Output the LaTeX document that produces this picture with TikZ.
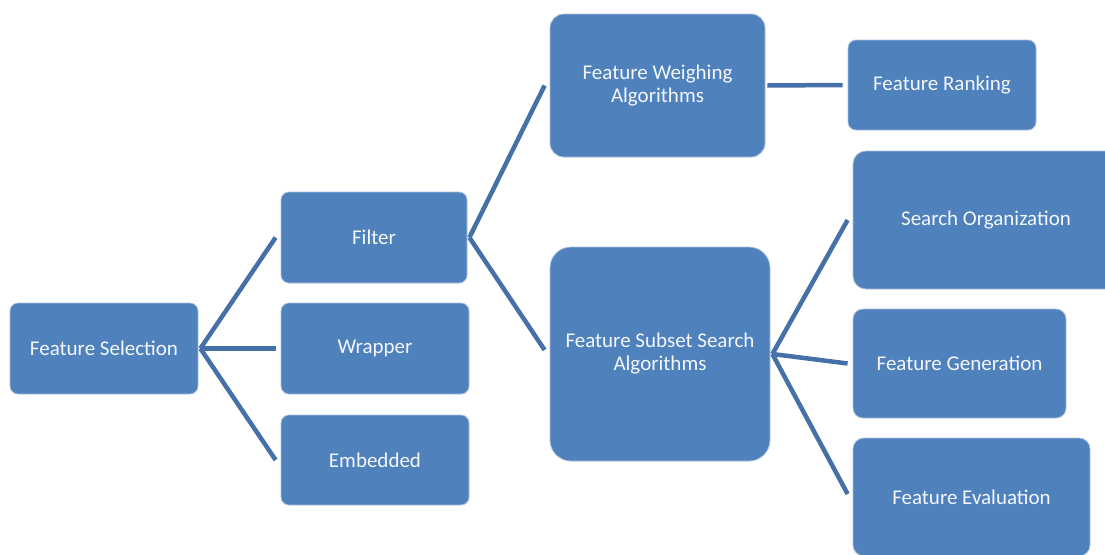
\documentclass[tikz,border=0pt]{standalone}
\usepackage{fontspec}
\setmainfont{Carlito}
\definecolor{boxblue}{HTML}{4F81BD}
\definecolor{boxedge}{HTML}{A7BFDE}
\definecolor{linkblue}{HTML}{4571A8}
\definecolor{labelwhite}{HTML}{F4F7FB}
\tikzset{
  blockbox/.style={rectangle, fill=boxblue, draw=boxedge, line width=0.8pt,
    text=labelwhite, align=center, inner sep=0pt,
    font=\fontsize{21}{23}\selectfont},
  link/.style={draw=linkblue, line width=4.5pt}
}
\begin{document}
\begin{tikzpicture}[x=1pt,y=-1pt]
  \useasboundingbox (0,0) rectangle (1105,554);
  \clip (0,0) rectangle (1105,554);
  \fill[white] (0,0) rectangle (1105,554);

  % first level
  \node[blockbox, rounded corners=8pt, minimum width=188pt, minimum height=91pt]
    (fs) at (104,348.5) {Feature Selection};

  % second level
  \node[blockbox, rounded corners=8pt, minimum width=186pt, minimum height=91pt]
    (filter) at (374,237.5) {Filter};
  \node[blockbox, rounded corners=8pt, minimum width=188pt, minimum height=91pt]
    (wrapper) at (375,348.5) {Wrapper};
  \node[blockbox, rounded corners=8pt, minimum width=188pt, minimum height=90pt]
    (embedded) at (375,460) {Embedded};

  % third level
  \node[blockbox, rounded corners=14pt, minimum width=215pt, minimum height=143pt]
    (fwa) at (657.5,85.5) {Feature Weighing\\Algorithms};
  \node[blockbox, rounded corners=21pt, minimum width=220pt, minimum height=214pt]
    (fssa) at (660,354) {Feature Subset Search\\Algorithms};

  % fourth level
  \node[blockbox, rounded corners=8pt, minimum width=188pt, minimum height=90pt]
    (fr) at (942,85) {Feature Ranking};
  \node[blockbox, rounded corners=13pt, minimum width=266pt, minimum height=138pt]
    (so) at (986,220) {Search Organization};
  \node[blockbox, rounded corners=10pt, minimum width=213pt, minimum height=109pt]
    (fg) at (959.5,363.5) {Feature Generation};
  \node[blockbox, rounded corners=11pt, minimum width=237pt, minimum height=118pt]
    (fe) at (971.5,497) {Feature Evaluation};

  % connectors
  \draw[link] ([xshift=2pt]fs.east) -- ([xshift=-5pt]filter.west);
  \draw[link] ([xshift=2pt]fs.east) -- ([xshift=-5pt]wrapper.west);
  \draw[link] ([xshift=2pt]fs.east) -- ([xshift=-5pt]embedded.west);

  \draw[link] ([xshift=2pt]filter.east) -- ([xshift=-5pt]fwa.west);
  \draw[link] ([xshift=2pt]filter.east) -- ([xshift=-5pt,yshift=4pt]fssa.west);

  \draw[link] ([xshift=2pt]fwa.east) -- ([xshift=-5pt]fr.west);

  \draw[link] ([xshift=2pt]fssa.east) -- ([xshift=-5pt]so.west);
  \draw[link] ([xshift=2pt]fssa.east) -- ([xshift=-5pt]fg.west);
  \draw[link] ([xshift=2pt]fssa.east) -- ([xshift=-5pt,yshift=3pt]fe.west);
\end{tikzpicture}
\end{document}
